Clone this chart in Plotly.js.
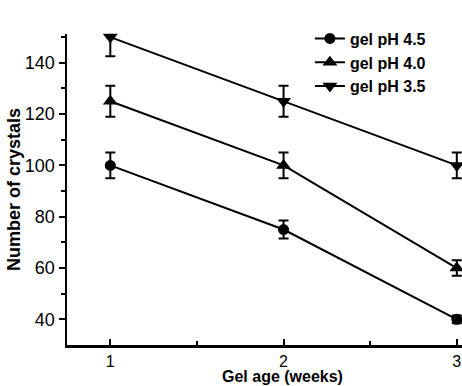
<!DOCTYPE html>
<html>
<head>
<meta charset="utf-8">
<script src="https://cdn.plot.ly/plotly-3.0.1.min.js"></script>
<style>html,body{margin:0;padding:0;background:#fff;}#chart{width:462px;height:386px;}</style>
</head>
<body>
<div id="chart"></div>
<script>
const weeks = [1, 2, 3];
const seriesNames = ['gel pH 4.5', 'gel pH 4.0', 'gel pH 3.5'];
const ph45 = [100, 75, 40];
const ph45Err = [5, 3.5, 1.5];
const ph40 = [125, 100, 60];
const ph40Err = [6, 5, 3];
const ph35 = [150, 125, 100];
const ph35Err = [7.5, 6, 5];
const symbols = ['circle', 'triangle-up', 'triangle-down'];
const sizes = [11, 13, 13];
const xTitle = 'Gel age (weeks)';
const yTitle = 'Number of crystals';

const values = [ph45, ph40, ph35];
const errs = [ph45Err, ph40Err, ph35Err];

const traces = values.map((v, i) => ({
  x: weeks, y: v, name: seriesNames[i], type: 'scatter', mode: 'lines+markers',
  line: {color: '#000', width: 2},
  marker: {symbol: symbols[i], size: sizes[i], color: '#000'},
  error_y: {type: 'data', array: errs[i], visible: true, color: '#000', thickness: 2, width: 5},
  cliponaxis: false
}));

const font = 'Liberation Sans, Arial, sans-serif';
const layout = {
  width: 462, height: 386,
  margin: {l: 67, r: 0, t: 34, b: 41},
  paper_bgcolor: '#fff', plot_bgcolor: '#fff',
  showlegend: true,
  legend: {x: 0.615, y: 1.04, xanchor: 'left', yanchor: 'top', bgcolor: 'rgba(0,0,0,0)',
    font: {family: font, size: 16, color: '#000', weight: 'bold'}, tracegroupgap: 0, itemwidth: 30},
  xaxis: {
    range: [0.75, 3.03], tickvals: weeks, ticktext: weeks.map(String),
    ticks: 'inside', ticklen: 6, tickwidth: 2, tickcolor: '#000',
    minor: {tickvals: [1.5, 2.5], ticks: 'inside', ticklen: 4, tickwidth: 2, tickcolor: '#000'},
    showline: true, linewidth: 2.5, linecolor: '#000', showgrid: false, zeroline: false,
    tickfont: {family: font, size: 16, color: '#000'}
  },
  yaxis: {
    range: [30, 151.2], tickvals: [40, 60, 80, 100, 120, 140],
    ticks: 'outside', ticklen: 6, tickwidth: 2, tickcolor: '#000',
    minor: {tickvals: [50, 70, 90, 110, 130, 150], ticks: 'outside', ticklen: 4, tickwidth: 2, tickcolor: '#000'},
    showline: true, linewidth: 2.5, linecolor: '#000', showgrid: false, zeroline: false,
    tickfont: {family: font, size: 18, color: '#000'},
    title: {text: yTitle, font: {family: font, size: 18, color: '#000', weight: 'bold'}, standoff: 0}
  },
  annotations: [{
    text: xTitle, xref: 'paper', yref: 'paper', x: 0.546, y: 0, xanchor: 'center', yanchor: 'bottom',
    yshift: -41, showarrow: false, borderpad: 0,
    font: {family: font, size: 16, color: '#000', weight: 'bold'}
  }]
};
Plotly.newPlot('chart', traces, layout, {staticPlot: true, displayModeBar: false});
</script>
</body>
</html>
